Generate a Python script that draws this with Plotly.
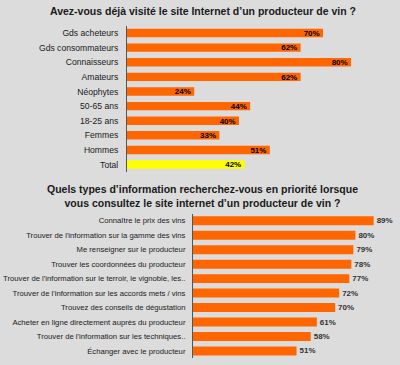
import plotly.graph_objects as go

# Top chart data
top_categories = ["Gds acheteurs", "Gds consommateurs", "Connaisseurs", "Amateurs",
                  "Néophytes", "50-65 ans", "18-25 ans", "Femmes", "Hommes", "Total"]
top_values = [70, 62, 80, 62, 24, 44, 40, 33, 51, 42]
top_title = "Avez-vous déjà visité le site Internet d\u2019un producteur de vin ?"

# Bottom chart data
bot_categories = ["Connaître le prix des vins",
                  "Trouver de l'information sur la gamme des vins",
                  "Me renseigner sur le producteur",
                  "Trouver les coordonnées du producteur",
                  "Trouver de l'information sur le terroir, le vignoble, les..",
                  "Trouver de l'information sur les accords mets / vins",
                  "Trouvez des conseils de dégustation",
                  "Acheter en ligne directement auprès du producteur",
                  "Trouver de l'information sur les techniques..",
                  "Échanger avec le producteur"]
bot_values = [89, 80, 79, 78, 77, 72, 70, 61, 58, 51]
bot_title = ("Quels types d\u2019information recherchez-vous en priorité lorsque<br>"
             "vous consultez le site internet d\u2019un producteur de vin ?")

ORANGE = "#ff6600"
YELLOW = "#ffff00"
BG = "#dcdcdc"
FONT = "Liberation Sans, Arial, sans-serif"

top_colors = [YELLOW if c == "Total" else ORANGE for c in top_categories]

fig = go.Figure()
fig.add_trace(go.Bar(
    x=top_values, y=top_categories, orientation="h",
    marker=dict(color=top_colors, line=dict(width=0)),
    width=0.58,
    text=[f"{v}%" for v in top_values], textposition="inside",
    insidetextanchor="end",
    textfont=dict(family=FONT, size=8.5, color="#000000", weight="bold"),
    xaxis="x", yaxis="y", hoverinfo="skip",
))
fig.add_trace(go.Bar(
    x=bot_values, y=bot_categories, orientation="h",
    marker=dict(color=ORANGE, line=dict(width=0)),
    width=0.62,
    text=[f"{v}%" for v in bot_values], textposition="outside",
    cliponaxis=False,
    textfont=dict(family=FONT, size=8, color="#333333", weight="bold"),
    xaxis="x2", yaxis="y2", hoverinfo="skip",
))

fig.update_layout(
    width=400, height=365,
    margin=dict(l=0, r=0, t=0, b=0),
    paper_bgcolor=BG, plot_bgcolor=BG,
    showlegend=False,
    font=dict(family=FONT, size=10, color="#1a1a1a"),
    uniformtext=dict(minsize=6, mode="show"),
    xaxis=dict(domain=[127/400, 0.9], range=[0, (0.9 - 127/400) * 400 / 2.8],
               visible=False, fixedrange=True, automargin=False),
    yaxis=dict(domain=[0.529, 0.9296], autorange="reversed", anchor="x",
               showline=True, linecolor="#555555", linewidth=1, automargin=False,
               ticks="", ticklabelstandoff=6, tickfont=dict(size=8.6, color="#1a1a1a"),
               showgrid=False, zeroline=False),
    xaxis2=dict(domain=[193/400, 0.96], range=[0, (0.96 - 193/400) * 400 / 2.03],
                visible=False, fixedrange=True, anchor="y2", automargin=False),
    yaxis2=dict(domain=[0.0186, 0.415], autorange="reversed", anchor="x2",
                showline=True, linecolor="#555555", linewidth=1, automargin=False,
                ticks="", ticklabelstandoff=5, tickfont=dict(size=7.7, color="#1a1a1a"),
                showgrid=False, zeroline=False),
    annotations=[
        dict(text=top_title, x=203/400, y=1 - 11/365, xref="paper", yref="paper",
             showarrow=False, xanchor="center", yanchor="middle",
             font=dict(family=FONT, size=10.5, color="#1a1a1a", weight="bold")),
        dict(text=bot_title, x=203/400, y=1 - 196.5/365, xref="paper", yref="paper",
             showarrow=False, xanchor="center", yanchor="middle",
             font=dict(family=FONT, size=10.5, color="#1a1a1a", weight="bold")),
    ],
)

fig.write_html(
    "out.html",
    config={"displayModeBar": False},
    post_script="document.body.style.margin='0';document.body.style.background='#dcdcdc';",
)
